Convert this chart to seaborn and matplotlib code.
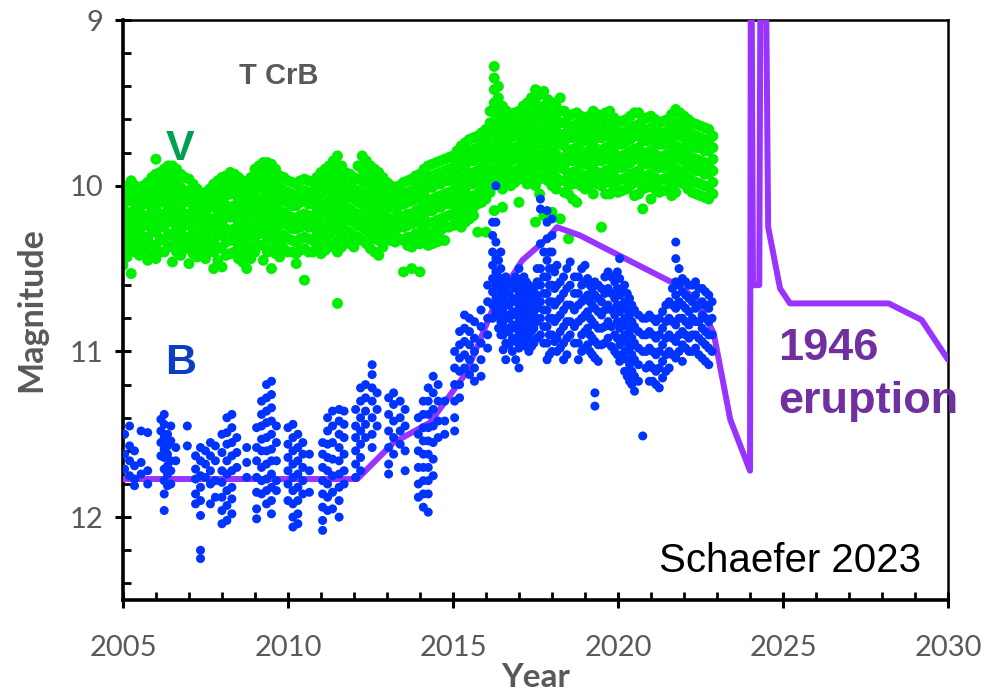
import numpy as np
import pandas as pd
import matplotlib
matplotlib.use("Agg")
import matplotlib.pyplot as plt
from matplotlib.ticker import MultipleLocator
import seaborn as sns

# ---------------------------------------------------------------------------
# T CrB photometry: V band, columns of magnitudes at quarter-year steps
# ---------------------------------------------------------------------------
v_year = [2005.00, 2005.25, 2005.50, 2005.75, 2006.00, 2006.25, 2006.50, 2006.75,
          2007.00, 2007.25, 2007.50, 2007.75, 2008.00, 2008.25, 2008.50, 2008.75,
          2009.00, 2009.25, 2009.50, 2009.75, 2010.00, 2010.25, 2010.50, 2010.75,
          2011.00, 2011.25, 2011.50, 2011.75, 2012.00, 2012.25, 2012.50, 2012.75,
          2013.00, 2013.25, 2013.50, 2013.75, 2014.00, 2014.25, 2014.50, 2014.75,
          2015.00, 2015.25, 2015.50, 2015.75, 2016.00, 2016.25, 2016.50, 2016.75,
          2017.00, 2017.25, 2017.50, 2017.75, 2018.00, 2018.25, 2018.50, 2018.75,
          2019.00, 2019.25, 2019.50, 2019.75, 2020.00, 2020.25, 2020.50, 2020.75,
          2021.00, 2021.25, 2021.50, 2021.75, 2022.00, 2022.25, 2022.50, 2022.75]
v_mag = [
    [10.00, 10.05, 10.13, 10.18, 10.26, 10.31, 10.39, 10.48],
    [9.97, 10.04, 10.09, 10.17, 10.23, 10.31, 10.37, 10.53],
    [10.02, 10.07, 10.15, 10.20, 10.28, 10.34, 10.42],
    [9.98, 10.06, 10.11, 10.19, 10.24, 10.32, 10.39, 10.45],
    [9.84, 9.93, 9.99, 10.07, 10.13, 10.21, 10.28, 10.36, 10.44],
    [9.90, 9.96, 10.04, 10.10, 10.18, 10.24, 10.33, 10.40],
    [9.88, 9.94, 10.02, 10.08, 10.16, 10.22, 10.30, 10.36, 10.46],
    [9.93, 10.01, 10.06, 10.14, 10.20, 10.28, 10.34, 10.42],
    [9.96, 10.03, 10.09, 10.17, 10.23, 10.31, 10.37, 10.47],
    [10.02, 10.08, 10.15, 10.21, 10.29, 10.35, 10.43],
    [10.04, 10.10, 10.17, 10.23, 10.30, 10.36, 10.44],
    [9.99, 10.06, 10.12, 10.20, 10.26, 10.34, 10.40, 10.50],
    [9.95, 10.02, 10.08, 10.16, 10.22, 10.30, 10.37, 10.49],
    [9.92, 9.99, 10.05, 10.13, 10.19, 10.27, 10.33, 10.41],
    [9.95, 10.02, 10.08, 10.16, 10.22, 10.30, 10.36, 10.44],
    [10.00, 10.07, 10.13, 10.21, 10.27, 10.35, 10.41, 10.50],
    [9.90, 9.97, 10.03, 10.11, 10.17, 10.25, 10.31, 10.40],
    [9.86, 9.93, 9.99, 10.07, 10.13, 10.21, 10.27, 10.36, 10.45],
    [9.87, 9.95, 10.01, 10.09, 10.15, 10.23, 10.29, 10.38, 10.50],
    [9.94, 10.01, 10.07, 10.15, 10.21, 10.29, 10.35, 10.43],
    [9.97, 10.04, 10.10, 10.18, 10.24, 10.32, 10.40],
    [9.99, 10.06, 10.12, 10.20, 10.26, 10.34, 10.41, 10.47],
    [9.96, 10.03, 10.09, 10.17, 10.23, 10.31, 10.38, 10.57],
    [9.98, 10.05, 10.11, 10.19, 10.25, 10.33, 10.40],
    [9.92, 9.99, 10.05, 10.13, 10.19, 10.27, 10.33, 10.41],
    [9.88, 9.95, 10.01, 10.09, 10.15, 10.23, 10.29, 10.37],
    [9.82, 9.90, 9.97, 10.05, 10.11, 10.19, 10.25, 10.33, 10.40, 10.71],
    [9.92, 9.99, 10.05, 10.13, 10.19, 10.27, 10.34],
    [9.95, 10.02, 10.08, 10.16, 10.22, 10.30, 10.37],
    [9.82, 9.90, 9.97, 10.05, 10.11, 10.19, 10.25, 10.33],
    [9.88, 9.95, 10.01, 10.09, 10.15, 10.23, 10.29, 10.38],
    [9.92, 9.99, 10.05, 10.13, 10.19, 10.27, 10.33, 10.42],
    [9.98, 10.05, 10.11, 10.19, 10.25, 10.33],
    [10.02, 10.08, 10.14, 10.21, 10.27, 10.34],
    [9.98, 10.05, 10.11, 10.19, 10.25, 10.33, 10.52],
    [9.96, 10.03, 10.09, 10.17, 10.23, 10.31, 10.37, 10.50],
    [9.93, 10.00, 10.06, 10.14, 10.20, 10.28, 10.35, 10.52],
    [9.88, 9.95, 10.01, 10.09, 10.15, 10.23, 10.30, 10.36],
    [9.86, 9.93, 9.99, 10.07, 10.13, 10.21, 10.27, 10.34],
    [9.84, 9.91, 9.97, 10.05, 10.11, 10.19, 10.25, 10.33],
    [9.82, 9.89, 9.95, 10.03, 10.09, 10.17, 10.24],
    [9.76, 9.83, 9.89, 9.97, 10.03, 10.11, 10.17, 10.25],
    [9.72, 9.79, 9.85, 9.93, 9.99, 10.07, 10.13, 10.20],
    [9.70, 9.77, 9.83, 9.91, 9.97, 10.05, 10.11, 10.28],
    [9.66, 9.73, 9.79, 9.87, 9.93, 10.01, 10.08, 10.28],
    [9.28, 9.35, 9.42, 9.50, 9.56, 9.64, 9.70, 9.78, 9.84, 9.92, 10.15],
    [9.52, 9.59, 9.65, 9.73, 9.79, 9.87, 9.93, 10.02, 10.13],
    [9.58, 9.65, 9.71, 9.79, 9.85, 9.93, 10.00],
    [9.55, 9.62, 9.68, 9.76, 9.82, 9.90, 9.96, 10.10],
    [9.50, 9.57, 9.63, 9.71, 9.77, 9.85, 9.91, 9.99],
    [9.42, 9.50, 9.57, 9.65, 9.71, 9.79, 9.85, 9.93, 10.00, 10.22],
    [9.43, 9.52, 9.59, 9.67, 9.73, 9.81, 9.87, 9.95, 10.18],
    [9.50, 9.58, 9.64, 9.72, 9.78, 9.86, 9.92, 10.00, 10.16],
    [9.47, 9.55, 9.62, 9.69, 9.75, 9.83, 9.89, 9.97, 10.20],
    [9.58, 9.65, 9.71, 9.79, 9.85, 9.93, 9.99, 10.05, 10.32],
    [9.56, 9.63, 9.69, 9.77, 9.83, 9.91, 9.97, 10.10],
    [9.60, 9.67, 9.73, 9.81, 9.87, 9.95, 10.02],
    [9.55, 9.62, 9.68, 9.76, 9.82, 9.90, 9.96, 10.05],
    [9.58, 9.65, 9.71, 9.79, 9.85, 9.93, 10.00, 10.25],
    [9.55, 9.62, 9.68, 9.76, 9.82, 9.90, 9.96, 10.05],
    [9.62, 9.69, 9.75, 9.83, 9.89, 9.97, 10.04],
    [9.60, 9.67, 9.73, 9.81, 9.87, 9.95, 10.02],
    [9.56, 9.64, 9.70, 9.78, 9.84, 9.92, 9.98, 10.06],
    [9.60, 9.67, 9.73, 9.81, 9.87, 9.95, 10.02, 10.14],
    [9.58, 9.65, 9.71, 9.79, 9.85, 9.93, 9.99, 10.08],
    [9.62, 9.69, 9.75, 9.83, 9.89, 9.97, 10.04],
    [9.60, 9.67, 9.73, 9.81, 9.87, 9.95, 10.02],
    [9.54, 9.62, 9.68, 9.76, 9.82, 9.90, 9.96, 10.04],
    [9.58, 9.65, 9.71, 9.79, 9.85, 9.93, 9.99],
    [9.62, 9.69, 9.75, 9.83, 9.89, 9.97, 10.04],
    [9.64, 9.71, 9.77, 9.85, 9.91, 9.99, 10.06],
    [9.66, 9.73, 9.79, 9.87, 9.93, 10.01, 10.08],
]

# V band, columns in between the quarter-year steps
v_year_mid = [2005.125, 2005.375, 2005.625, 2005.875, 2006.125, 2006.375, 2006.625, 2006.875,
              2007.125, 2007.375, 2007.625, 2007.875, 2008.125, 2008.375, 2008.625, 2008.875,
              2009.125, 2009.375, 2009.625, 2009.875, 2010.125, 2010.375, 2010.625, 2010.875,
              2011.125, 2011.375, 2011.625, 2011.875, 2012.125, 2012.375, 2012.625, 2012.875,
              2013.125, 2013.375, 2013.625, 2013.875, 2014.125, 2014.375, 2014.625, 2014.875,
              2015.125, 2015.375, 2015.625, 2015.875, 2016.125, 2016.375, 2016.625, 2016.875,
              2017.125, 2017.375, 2017.625, 2017.875, 2018.125, 2018.375, 2018.625, 2018.875,
              2019.125, 2019.375, 2019.625, 2019.875, 2020.125, 2020.375, 2020.625, 2020.875,
              2021.125, 2021.375, 2021.625, 2021.875, 2022.125, 2022.375, 2022.625, 2022.875]
v_mag_mid = [
    [10.02, 10.09, 10.16, 10.22, 10.29, 10.35, 10.43],
    [10.00, 10.06, 10.12, 10.19, 10.26, 10.33, 10.40],
    [10.00, 10.05, 10.11, 10.18, 10.24, 10.31, 10.38],
    [9.95, 10.02, 10.09, 10.15, 10.22, 10.28, 10.36, 10.42],
    [9.92, 9.97, 10.03, 10.10, 10.17, 10.25, 10.32, 10.40],
    [9.88, 9.93, 10.00, 10.07, 10.14, 10.21, 10.29, 10.37],
    [9.90, 9.98, 10.05, 10.12, 10.19, 10.26, 10.33, 10.40],
    [9.95, 10.03, 10.10, 10.17, 10.24, 10.31, 10.38],
    [9.99, 10.06, 10.12, 10.20, 10.27, 10.34, 10.41],
    [10.05, 10.11, 10.18, 10.25, 10.32, 10.39],
    [10.02, 10.07, 10.13, 10.20, 10.27, 10.33, 10.40],
    [9.97, 10.04, 10.10, 10.17, 10.24, 10.30, 10.38, 10.45],
    [9.94, 10.00, 10.06, 10.12, 10.19, 10.26, 10.34, 10.42],
    [9.93, 9.99, 10.05, 10.12, 10.19, 10.26, 10.33, 10.40],
    [9.97, 10.04, 10.11, 10.18, 10.25, 10.32, 10.39, 10.46],
    [9.95, 10.02, 10.08, 10.16, 10.23, 10.30, 10.37, 10.44],
    [9.88, 9.95, 10.01, 10.08, 10.15, 10.22, 10.29, 10.36],
    [9.86, 9.91, 9.97, 10.04, 10.11, 10.18, 10.25, 10.32, 10.40],
    [9.90, 9.98, 10.05, 10.12, 10.19, 10.26, 10.33, 10.41],
    [9.95, 10.03, 10.09, 10.16, 10.23, 10.30, 10.38],
    [9.98, 10.05, 10.12, 10.19, 10.26, 10.33, 10.40],
    [9.97, 10.04, 10.10, 10.18, 10.25, 10.32, 10.39],
    [9.97, 10.04, 10.11, 10.18, 10.25, 10.32, 10.40],
    [9.95, 10.02, 10.09, 10.16, 10.23, 10.30, 10.37],
    [9.90, 9.97, 10.03, 10.11, 10.18, 10.25, 10.32, 10.39],
    [9.85, 9.92, 9.99, 10.06, 10.13, 10.20, 10.27, 10.35],
    [9.88, 9.95, 10.02, 10.09, 10.16, 10.23, 10.30, 10.37],
    [9.93, 10.00, 10.07, 10.14, 10.21, 10.28, 10.35],
    [9.88, 9.96, 10.03, 10.10, 10.17, 10.24, 10.31],
    [9.85, 9.92, 9.99, 10.06, 10.13, 10.20, 10.27, 10.35],
    [9.90, 9.97, 10.04, 10.11, 10.18, 10.25, 10.32, 10.40],
    [9.95, 10.02, 10.09, 10.16, 10.23, 10.30, 10.37],
    [10.00, 10.07, 10.13, 10.20, 10.27, 10.33],
    [10.00, 10.06, 10.12, 10.18, 10.25, 10.32],
    [9.97, 10.04, 10.10, 10.17, 10.24, 10.31, 10.36],
    [9.94, 10.01, 10.08, 10.15, 10.22, 10.29, 10.35],
    [9.90, 9.97, 10.04, 10.11, 10.18, 10.25, 10.32],
    [9.87, 9.94, 10.01, 10.08, 10.15, 10.22, 10.29, 10.35],
    [9.85, 9.92, 9.99, 10.06, 10.13, 10.20, 10.27, 10.33],
    [9.83, 9.90, 9.97, 10.04, 10.11, 10.18, 10.25],
    [9.79, 9.86, 9.93, 10.00, 10.07, 10.14, 10.21],
    [9.74, 9.81, 9.88, 9.95, 10.02, 10.09, 10.16, 10.22],
    [9.71, 9.78, 9.85, 9.92, 9.99, 10.06, 10.13, 10.18],
    [9.68, 9.75, 9.82, 9.89, 9.96, 10.03, 10.10],
    [9.55, 9.62, 9.69, 9.76, 9.83, 9.90, 9.97, 10.04],
    [9.40, 9.47, 9.54, 9.61, 9.68, 9.75, 9.82, 9.89, 9.96],
    [9.55, 9.62, 9.69, 9.76, 9.83, 9.90, 9.97],
    [9.56, 9.63, 9.70, 9.77, 9.84, 9.91, 9.98],
    [9.52, 9.59, 9.66, 9.73, 9.80, 9.87, 9.94],
    [9.47, 9.54, 9.61, 9.68, 9.75, 9.82, 9.89, 9.96],
    [9.45, 9.53, 9.61, 9.68, 9.75, 9.82, 9.89, 9.96, 10.05],
    [9.48, 9.55, 9.62, 9.69, 9.76, 9.83, 9.90, 9.97],
    [9.52, 9.60, 9.67, 9.74, 9.81, 9.88, 9.95, 10.02],
    [9.55, 9.62, 9.69, 9.76, 9.83, 9.90, 9.97, 10.04],
    [9.57, 9.64, 9.71, 9.78, 9.85, 9.92, 9.99, 10.08],
    [9.58, 9.65, 9.72, 9.79, 9.86, 9.93, 10.00],
    [9.58, 9.65, 9.72, 9.79, 9.86, 9.93, 10.00],
    [9.57, 9.64, 9.71, 9.78, 9.85, 9.92, 9.99],
    [9.56, 9.63, 9.70, 9.77, 9.84, 9.91, 9.98, 10.05],
    [9.59, 9.66, 9.73, 9.80, 9.87, 9.94, 10.01],
    [9.61, 9.68, 9.75, 9.82, 9.89, 9.96, 10.03],
    [9.58, 9.65, 9.72, 9.79, 9.86, 9.93, 10.00],
    [9.56, 9.63, 9.70, 9.77, 9.84, 9.91, 9.98, 10.05],
    [9.59, 9.66, 9.73, 9.80, 9.87, 9.94, 10.01],
    [9.60, 9.67, 9.74, 9.81, 9.88, 9.95, 10.02],
    [9.61, 9.68, 9.75, 9.82, 9.89, 9.96, 10.03],
    [9.57, 9.64, 9.71, 9.78, 9.85, 9.92, 9.99, 10.06],
    [9.56, 9.63, 9.70, 9.77, 9.84, 9.91, 9.98],
    [9.60, 9.67, 9.74, 9.81, 9.88, 9.95, 10.02],
    [9.63, 9.70, 9.77, 9.84, 9.91, 9.98, 10.05],
    [9.65, 9.72, 9.79, 9.86, 9.93, 10.00, 10.07],
    [9.70, 9.77, 9.84, 9.91, 9.98, 10.05],
]

# ---------------------------------------------------------------------------
# B band, columns of magnitudes within each observing season
# ---------------------------------------------------------------------------
b_year = [2005.05, 2005.20, 2005.35, 2005.55, 2005.75,
          2006.15, 2006.25, 2006.35, 2006.45, 2006.60, 2006.95,
          2007.20, 2007.35, 2007.50, 2007.65, 2007.80,
          2008.00, 2008.15, 2008.30, 2008.45, 2008.75,
          2009.05, 2009.20, 2009.35, 2009.50, 2009.65,
          2010.00, 2010.15, 2010.30, 2010.45, 2010.65,
          2011.05, 2011.20, 2011.35, 2011.55, 2011.70,
          2012.05, 2012.20, 2012.35, 2012.55, 2012.70,
          2013.05, 2013.20, 2013.40, 2013.55,
          2013.95, 2014.10, 2014.25, 2014.40, 2014.55, 2014.75,
          2015.05, 2015.20, 2015.35, 2015.50, 2015.65, 2015.85,
          2016.05, 2016.20, 2016.30, 2016.45, 2016.60, 2016.80,
          2017.00, 2017.15, 2017.30, 2017.45, 2017.65, 2017.85,
          2018.00, 2018.15, 2018.35, 2018.55, 2018.80,
          2019.00, 2019.15, 2019.30, 2019.50, 2019.70, 2019.90,
          2020.05, 2020.20, 2020.35, 2020.50, 2020.75, 2020.95,
          2021.15, 2021.35, 2021.55, 2021.75, 2021.95,
          2022.15, 2022.35, 2022.55, 2022.75]
b_mag = [
    [11.50, 11.62, 11.71],
    [11.45, 11.57, 11.66, 11.75],
    [11.60, 11.69, 11.77, 11.81],
    [11.48, 11.67, 11.74],
    [11.49, 11.72, 11.80],
    [11.41, 11.48, 11.55, 11.63],
    [11.38, 11.44, 11.52, 11.59, 11.64, 11.71, 11.78, 11.86, 11.96],
    [11.50, 11.57, 11.62, 11.69, 11.74, 11.81],
    [11.45, 11.54, 11.66, 11.72, 11.80],
    [11.58, 11.66],
    [11.45, 11.57],
    [11.63, 11.71, 11.77, 11.86, 11.92],
    [11.58, 11.66, 11.75, 11.82, 11.90, 11.99, 12.20, 12.25],
    [11.60, 11.68, 11.76],
    [11.55, 11.63, 11.72, 11.80, 11.92],
    [11.57, 11.66, 11.78, 11.88],
    [11.50, 11.61, 11.72, 11.79, 11.88, 11.96, 12.04],
    [11.40, 11.49, 11.56, 11.66, 11.74, 11.84, 11.93, 12.02],
    [11.38, 11.46, 11.55, 11.63, 11.72, 11.82, 11.89, 11.98],
    [11.52, 11.61, 11.70],
    [11.58, 11.67, 11.76],
    [11.46, 11.58, 11.66, 11.76, 11.85, 11.95, 12.01],
    [11.30, 11.38, 11.45, 11.53, 11.60, 11.70, 11.78, 11.86],
    [11.20, 11.28, 11.36, 11.43, 11.52, 11.60, 11.68, 11.77, 11.84, 11.92],
    [11.18, 11.26, 11.34, 11.42, 11.50, 11.59, 11.66, 11.74, 11.82, 11.90, 11.98],
    [11.45, 11.55, 11.66, 11.78, 11.84],
    [11.46, 11.56, 11.64, 11.72, 11.80, 11.90],
    [11.44, 11.52, 11.60, 11.68, 11.76, 11.84, 11.92, 12.00, 12.06],
    [11.50, 11.58, 11.66, 11.74, 11.82, 11.90, 11.98, 12.04],
    [11.55, 11.62, 11.70, 11.78, 11.86],
    [11.62, 11.72, 11.85],
    [11.55, 11.62, 11.70, 11.78, 11.86, 11.94, 12.02, 12.08],
    [11.40, 11.48, 11.56, 11.64, 11.72, 11.80, 11.88, 11.96],
    [11.36, 11.45, 11.55, 11.65, 11.75, 11.85, 11.95],
    [11.35, 11.42, 11.50, 11.58, 11.66, 11.74, 11.82, 11.90, 12.00],
    [11.36, 11.44, 11.52, 11.62, 11.72, 11.80],
    [11.35, 11.45, 11.52, 11.60, 11.68, 11.76],
    [11.22, 11.30, 11.40, 11.48, 11.56, 11.64, 11.72],
    [11.20, 11.28, 11.36, 11.44, 11.52],
    [11.08, 11.14, 11.22, 11.30, 11.40, 11.50, 11.58],
    [11.25, 11.35, 11.45],
    [11.28, 11.38, 11.48, 11.58, 11.68, 11.74],
    [11.25, 11.32, 11.42, 11.52, 11.62],
    [11.30, 11.40, 11.48, 11.56],
    [11.35, 11.45, 11.60, 11.72],
    [11.40, 11.50, 11.60, 11.70, 11.80, 11.88],
    [11.30, 11.38, 11.46, 11.54, 11.62, 11.70, 11.78, 11.86, 11.94],
    [11.22, 11.30, 11.38, 11.46, 11.54, 11.62, 11.70, 11.78, 11.86, 11.97],
    [11.15, 11.25, 11.35, 11.45, 11.55, 11.65, 11.75],
    [11.20, 11.30, 11.42, 11.52],
    [11.30, 11.42, 11.50],
    [11.00, 11.10, 11.20, 11.30, 11.40, 11.48],
    [10.88, 10.96, 11.04, 11.12, 11.20, 11.28],
    [10.78, 10.86, 10.94, 11.02, 11.10],
    [10.80, 10.88, 10.96, 11.05, 11.14],
    [10.82, 10.92, 11.00, 11.10, 11.18],
    [10.75, 10.85, 10.95, 11.05, 11.15],
    [10.60, 10.70, 10.80, 10.90, 10.98],
    [10.22, 10.30, 10.40, 10.48, 10.56, 10.64, 10.72, 10.80],
    [10.00, 10.22, 10.34, 10.44, 10.52, 10.60, 10.68, 10.76],
    [10.40, 10.50, 10.58, 10.66, 10.74, 10.82, 10.90],
    [10.55, 10.62, 10.70, 10.78, 10.86, 10.95, 11.05],
    [10.60, 10.68, 10.76, 10.84, 10.92, 11.00],
    [10.50, 10.58, 10.66, 10.74, 10.82, 10.90, 10.98, 11.10],
    [10.55, 10.63, 10.71, 10.79, 10.87, 10.95],
    [10.60, 10.68, 10.76, 10.84, 10.92, 11.00],
    [10.62, 10.70, 10.78, 10.86, 10.95],
    [10.08, 10.14, 10.35, 10.50, 10.60, 10.70, 10.80, 10.90],
    [10.15, 10.22, 10.32, 10.45, 10.55, 10.65, 10.75, 10.85, 10.95, 11.05],
    [10.20, 10.30, 10.40, 10.50, 10.60, 10.70, 10.80, 10.90, 11.00],
    [10.48, 10.60, 10.70, 10.80, 10.92, 11.00],
    [10.55, 10.65, 10.75, 10.85, 10.95, 11.05],
    [10.46, 10.60, 10.72, 10.82, 10.90],
    [10.55, 10.65, 10.72, 10.82, 10.95, 11.05],
    [10.48, 10.58, 10.68, 10.78, 10.88, 10.98],
    [10.60, 10.70, 10.80, 10.90, 11.00],
    [10.58, 10.66, 10.74, 10.84, 10.94, 11.04, 11.25, 11.33],
    [10.62, 10.70, 10.78, 10.86, 10.96],
    [10.52, 10.62, 10.72, 10.82, 10.92],
    [10.58, 10.68, 10.78, 10.90, 11.00],
    [10.44, 10.56, 10.66, 10.76, 10.86, 10.96, 11.06],
    [10.60, 10.70, 10.80, 10.90, 11.00, 11.12],
    [10.68, 10.78, 10.88, 10.98, 11.08, 11.18],
    [10.75, 10.85, 10.95, 11.05, 11.15, 11.24],
    [10.80, 10.90, 11.00, 11.51],
    [10.78, 10.88, 10.98, 11.08, 11.18],
    [10.82, 10.92, 11.02, 11.12, 11.20],
    [10.76, 10.86, 10.96, 11.06, 11.16],
    [10.70, 10.80, 10.90, 11.00, 11.10],
    [10.34, 10.44, 10.58, 10.66, 10.74, 10.84, 10.94, 11.04],
    [10.56, 10.64, 10.72, 10.80, 10.88, 10.96, 11.06],
    [10.60, 10.68, 10.76, 10.84, 10.92, 11.00],
    [10.58, 10.66, 10.74, 10.82, 10.90, 10.98],
    [10.62, 10.70, 10.78, 10.86, 10.94, 11.04],
    [10.66, 10.74, 10.82, 10.90, 10.98, 11.08],
]

# B band, extra columns in the crowded post-2016 stretch
b_year_mid = [2016.38, 2016.52, 2016.70, 2016.90, 2017.08, 2017.22, 2017.38, 2017.55,
              2017.75, 2017.92, 2018.08, 2018.25, 2018.45, 2018.68, 2018.90, 2019.08,
              2019.22, 2019.40, 2019.60, 2019.80, 2019.98, 2020.12, 2020.28, 2020.42,
              2020.62, 2020.85, 2021.05, 2021.25, 2021.45, 2021.65, 2021.85, 2022.05,
              2022.25, 2022.45, 2022.65, 2022.85]
b_mag_mid = [
    [10.45, 10.55, 10.62, 10.70, 10.78, 10.86],
    [10.60, 10.66, 10.74, 10.82, 10.90, 10.99],
    [10.58, 10.65, 10.72, 10.80, 10.88, 10.96],
    [10.55, 10.62, 10.70, 10.78, 10.86, 10.94, 11.05],
    [10.60, 10.68, 10.75, 10.83, 10.91],
    [10.58, 10.65, 10.73, 10.81, 10.89, 10.97],
    [10.64, 10.72, 10.80, 10.88, 10.97],
    [10.50, 10.58, 10.66, 10.74, 10.82, 10.92],
    [10.40, 10.55, 10.65, 10.75, 10.85, 10.95],
    [10.40, 10.50, 10.60, 10.70, 10.80, 10.90, 11.02],
    [10.52, 10.62, 10.72, 10.82, 10.94],
    [10.58, 10.68, 10.78, 10.88, 10.98],
    [10.50, 10.62, 10.72, 10.82, 10.92, 11.02],
    [10.55, 10.65, 10.75, 10.85, 10.95],
    [10.50, 10.60, 10.70, 10.80, 10.90, 11.00],
    [10.56, 10.66, 10.76, 10.86, 10.96],
    [10.62, 10.72, 10.82, 10.92, 11.02],
    [10.60, 10.68, 10.76, 10.86, 10.96, 11.06],
    [10.55, 10.65, 10.75, 10.85, 10.95],
    [10.55, 10.65, 10.75, 10.85, 10.97],
    [10.52, 10.62, 10.72, 10.82, 10.92, 11.02],
    [10.62, 10.72, 10.82, 10.92, 11.04],
    [10.65, 10.75, 10.85, 10.95, 11.05, 11.15],
    [10.72, 10.82, 10.92, 11.02, 11.12, 11.20],
    [10.78, 10.88, 10.98, 11.08, 11.18],
    [10.80, 10.90, 11.00, 11.10],
    [10.80, 10.90, 11.00, 11.10, 11.18],
    [10.80, 10.90, 11.00, 11.10, 11.22],
    [10.72, 10.82, 10.92, 11.02, 11.12],
    [10.62, 10.72, 10.82, 10.92, 11.02],
    [10.50, 10.60, 10.70, 10.80, 10.90, 11.00],
    [10.58, 10.66, 10.74, 10.82, 10.90, 10.98],
    [10.60, 10.70, 10.80, 10.90, 11.00],
    [10.62, 10.72, 10.82, 10.92, 11.02],
    [10.64, 10.72, 10.80, 10.88, 10.96, 11.06],
    [10.70, 10.80, 10.90, 11.00],
]

# ---------------------------------------------------------------------------
# 1946 eruption B light curve, shifted onto the modern time axis
# ---------------------------------------------------------------------------
model_year = [2005.0, 2012.1, 2013.2, 2014.3, 2015.4, 2016.3, 2017.1, 2017.9,
              2018.15, 2018.85, 2021.8, 2022.4, 2022.9, 2023.4, 2024.0,
              2024.03, 2024.09, 2024.28, 2024.33, 2024.45, 2024.55,
              2024.91, 2025.21, 2028.2, 2029.2, 2030.0]
model_mag = [11.77, 11.77, 11.55, 11.43, 11.13, 10.70, 10.45, 10.31,
             10.25, 10.30, 10.60, 10.69, 10.89, 11.41, 11.72,
             8.0, 10.60, 10.60, 8.0, 8.0, 10.25,
             10.62, 10.71, 10.71, 10.81, 11.05]


def expand(years, mags):
    xs, ys = [], []
    for yr, col in zip(years, mags):
        xs.extend([yr] * len(col))
        ys.extend(col)
    return pd.DataFrame({"year": xs, "mag": ys})


v_df = pd.concat([expand(v_year, v_mag), expand(v_year_mid, v_mag_mid)],
                 ignore_index=True)
b_df = pd.concat([expand(b_year, b_mag), expand(b_year_mid, b_mag_mid)],
                 ignore_index=True)
model_df = pd.DataFrame({"year": model_year, "mag": model_mag})

sns.set_style("white")
plt.rcParams["font.family"] = ["Lato", "DejaVu Sans"]

fig = plt.figure(figsize=(9.86, 6.91), dpi=100)
ax = fig.add_axes([0.1247, 0.1317, 0.8368, 0.8393])

grey = "#595959"

sns.scatterplot(data=v_df, x="year", y="mag", ax=ax, color="#00F000",
                s=62, linewidth=0, edgecolor="none", zorder=2)
sns.lineplot(data=model_df, x="year", y="mag", ax=ax, color="#9933FF",
             linewidth=4.3, estimator=None, sort=False, zorder=3)
sns.scatterplot(data=b_df, x="year", y="mag", ax=ax, color="#0033FF",
                s=42, linewidth=0, edgecolor="none", zorder=4)

ax.set_xlim(2005, 2030)
ax.set_ylim(12.5, 9)
ax.xaxis.set_major_locator(MultipleLocator(5))
ax.xaxis.set_minor_locator(MultipleLocator(1))
ax.yaxis.set_major_locator(MultipleLocator(1))
ax.yaxis.set_minor_locator(MultipleLocator(0.2))

ax.tick_params(which="major", direction="inout", length=12, width=2.2,
               color="black", labelsize=21, labelcolor=grey)
ax.tick_params(axis="x", which="major", pad=19)
ax.tick_params(axis="y", which="major", pad=8)
ax.tick_params(which="minor", direction="in", length=6, width=2.0,
               color="black")
ax.tick_params(which="both", top=False, right=False, bottom=True, left=True)

for side in ["left", "bottom"]:
    ax.spines[side].set_linewidth(2.6)
    ax.spines[side].set_color("black")
for side in ["top", "right"]:
    ax.spines[side].set_linewidth(1.8)
    ax.spines[side].set_color("black")

ax.set_xlabel("Year", fontsize=24, fontweight="bold", color=grey, labelpad=2)
ax.set_ylabel("Magnitude", fontsize=24.5, fontweight="bold", color=grey,
              labelpad=16)

ax.text(2009.73, 9.34, "T CrB", fontsize=21, fontweight="bold", color=grey,
        ha="center", va="center", family="Liberation Sans")
ax.text(2006.73, 9.78, "V", fontsize=31, fontweight="bold", color="#00A050",
        ha="center", va="center", family="Liberation Sans")
ax.text(2006.76, 11.07, "B", fontsize=31, fontweight="bold", color="#0A3FC2",
        ha="center", va="center", family="Liberation Sans")
ax.text(2024.85, 11.05, "1946", fontsize=32.5, fontweight="bold",
        color="#7030A0", ha="left", va="baseline", family="Liberation Sans")
ax.text(2024.85, 11.37, "eruption", fontsize=32.5, fontweight="bold",
        color="#7030A0", ha="left", va="baseline", family="Liberation Sans")
ax.text(2025.2, 12.33, "Schaefer 2023", fontsize=29, color="black",
        ha="center", va="baseline", family="Liberation Sans")

fig.savefig("out.png", dpi=100)
